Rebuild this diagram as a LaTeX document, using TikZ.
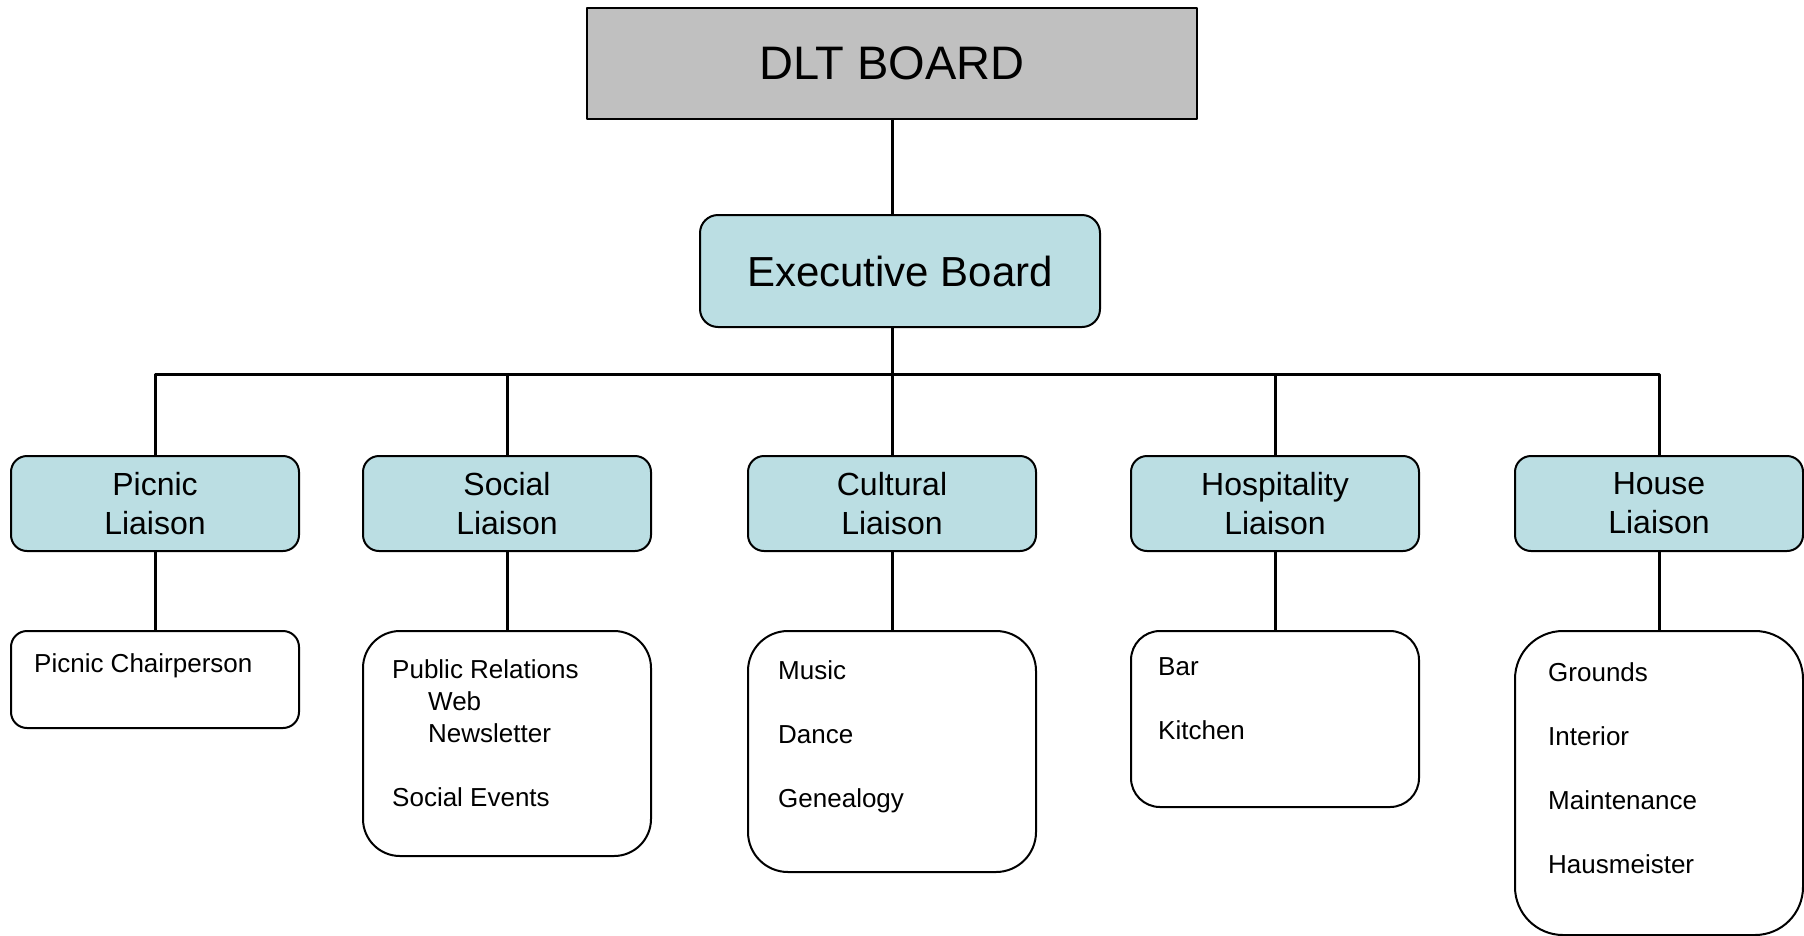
\documentclass[tikz,border=0pt]{standalone}
\usepackage{fontspec}
\setmainfont{Liberation Sans}
\usepackage{tikz}
\usetikzlibrary{positioning}
\definecolor{boardgray}{RGB}{192,192,192}
\definecolor{liaisonblue}{RGB}{187,222,227}

\begin{document}
\begin{tikzpicture}[line join=round,x=1pt,y=-1pt,
  box/.style={draw, line width=2pt, inner sep=0pt},
  liaison/.style={box, fill=liaisonblue, rounded corners=16pt, minimum width=288pt, minimum height=95pt, align=center, font=\fontsize{32}{39}\selectfont},
  subbox/.style={box, fill=white, minimum width=288pt, anchor=north},
  subtext/.style={anchor=base west, inner sep=0pt, align=left, font=\fontsize{26}{32}\selectfont},
  conn/.style={line width=3pt}]
\useasboundingbox (0,0) rectangle (1804,935);
% top of the chart
\node[box, fill=boardgray, minimum width=610pt, minimum height=111pt, font=\fontsize{47}{56}\selectfont] (dlt) at (892,63) {DLT BOARD};
\node[box, fill=liaisonblue, rounded corners=18pt, minimum width=400pt, minimum height=112pt, font=\fontsize{42}{50}\selectfont] (exec) at (900,271) {Executive Board};
% liaisons
\node[liaison] (pic) at (155,503.5) {Picnic\\Liaison};
\node[liaison] (soc) at (507,503.5) {Social\\Liaison};
\node[liaison] (cult) at (892,503.5) {Cultural\\Liaison};
\node[liaison] (hosp) at (1275,503.5) {Hospitality\\Liaison};
\node[liaison] (house) at (1659,503.5) {House\\Liaison};
% committees (text placed by its last baseline)
\node[subbox, rounded corners=16pt, minimum height=97pt] (picsub) at (155,630) {};
\node[subbox, rounded corners=37pt, minimum height=225pt] (socsub) at (507,630) {};
\node[subbox, rounded corners=40pt, minimum height=241pt] (cultsub) at (892,630) {};
\node[subbox, rounded corners=29pt, minimum height=176pt] (hospsub) at (1275,630) {};
\node[subbox, rounded corners=48pt, minimum height=304pt] (housesub) at (1659,630) {};
\node[subtext] (pictxt) at ([xshift=24pt, yshift=-42pt]picsub.north west) {Picnic Chairperson};
\node[subtext] (soctxt) at ([xshift=30pt, yshift=-176pt]socsub.north west) {Public Relations\\\hspace*{36pt}Web\\\hspace*{36pt}Newsletter\\[32pt]Social Events};
\node[subtext] (culttxt) at ([xshift=31pt, yshift=-177pt]cultsub.north west) {Music\\[32pt]Dance\\[32pt]Genealogy};
\node[subtext] (hosptxt) at ([xshift=28pt, yshift=-109pt]hospsub.north west) {Bar\\[32pt]Kitchen};
\node[subtext] (housetxt) at ([xshift=34pt, yshift=-243pt]housesub.north west) {Grounds\\[32pt]Interior\\[32pt]Maintenance\\[32pt]Hausmeister};
% connectors
\coordinate (bus) at (892,374);
\draw[conn] (dlt.south) -- (dlt.south |- exec.north);
\draw[conn] (cult.north |- exec.south) -- (cult.north);
\draw[conn] (pic.north) |- (bus) -| (house.north);
\draw[conn] (soc.north) -- (soc.north |- bus);
\draw[conn] (hosp.north) -- (hosp.north |- bus);
\foreach \a/\b in {pic/picsub, soc/socsub, cult/cultsub, hosp/hospsub, house/housesub}
  \draw[conn] (\a.south) -- (\b.north);
\end{tikzpicture}
\end{document}
